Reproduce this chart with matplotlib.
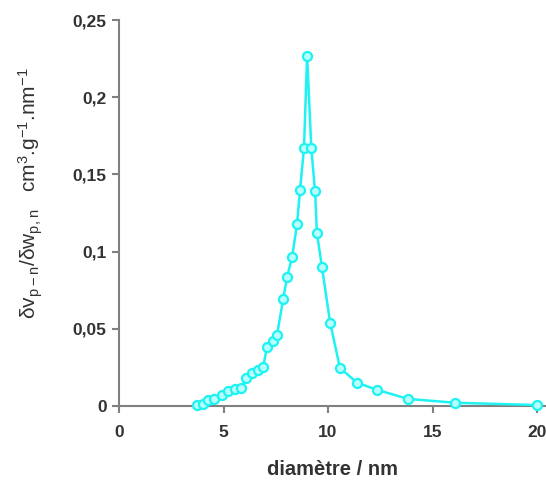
'''
pore size distribution: dv/dw against pore diameter, cyan line with markers.
'''

import matplotlib.pyplot as plt
from matplotlib.ticker import FuncFormatter

# diameter in nm
diam = [3.73, 4.02, 4.26, 4.55, 4.93, 5.2, 5.55, 5.84, 6.08, 6.36, 6.65, 6.89,
        7.08, 7.37, 7.56, 7.85, 8.04, 8.28, 8.52, 8.66, 8.85, 9.0, 9.2, 9.38,
        9.47, 9.71, 10.1, 10.57, 11.39, 12.34, 13.83, 16.08, 20.0]
dvdw = [0.0006, 0.0013, 0.004, 0.0045, 0.007, 0.0097, 0.011, 0.0117, 0.018,
        0.021, 0.023, 0.025, 0.038, 0.042, 0.046, 0.069, 0.0835, 0.0965, 0.118,
        0.14, 0.167, 0.227, 0.167, 0.139, 0.112, 0.09, 0.054, 0.0246, 0.015,
        0.0104, 0.0045, 0.002, 0.0005]
x_ticks = [0, 5, 10, 15, 20]
y_ticks = [0, 0.05, 0.1, 0.15, 0.2, 0.25]

plt.rcParams['font.family'] = ['Liberation Sans', 'DejaVu Sans']
plt.rcParams['mathtext.default'] = 'regular'

fig = plt.figure(figsize=(5.46, 4.82), dpi=100)
ax = fig.add_axes([0.218, 0.158, 0.782, 0.8])

ax.plot(diam, dvdw, color='#1ef2f2', lw=1.8, marker='o', ms=6.5,
        mfc='#b8ffff', mec='#1ef2f2', mew=1.6, clip_on=False, zorder=3)

ax.set_xlim(0, 20.43)
ax.set_ylim(0, 0.25)
ax.set_xticks(x_ticks)
ax.set_yticks(y_ticks)

def comma(v, pos):
    s = f"{v:g}"
    return s.replace('.', ',')

ax.yaxis.set_major_formatter(FuncFormatter(comma))

for side in ['top', 'right']:
    ax.spines[side].set_visible(False)
for side in ['left', 'bottom']:
    ax.spines[side].set_color('#808080')
    ax.spines[side].set_linewidth(1.5)
ax.tick_params(direction='out', length=5, width=1.5, color='#808080',
               labelsize=12.5, labelcolor='#333333')
ax.tick_params(axis='x', pad=9)
ax.tick_params(axis='y', pad=4)
for lab in ax.get_xticklabels() + ax.get_yticklabels():
    lab.set_fontweight('bold')

ax.set_xlabel("diamètre / nm", fontsize=14.5, fontweight='bold',
              color='#333333', labelpad=14)
fig.text(0.057, 0.6, "δv$_{p-n}$/δw$_{p,n}$   cm$^{3}$.g$^{-1}$.nm$^{-1}$",
         rotation=90, ha='center', va='center', fontsize=15, color='#333333')

plt.savefig('out.png', dpi=100)
